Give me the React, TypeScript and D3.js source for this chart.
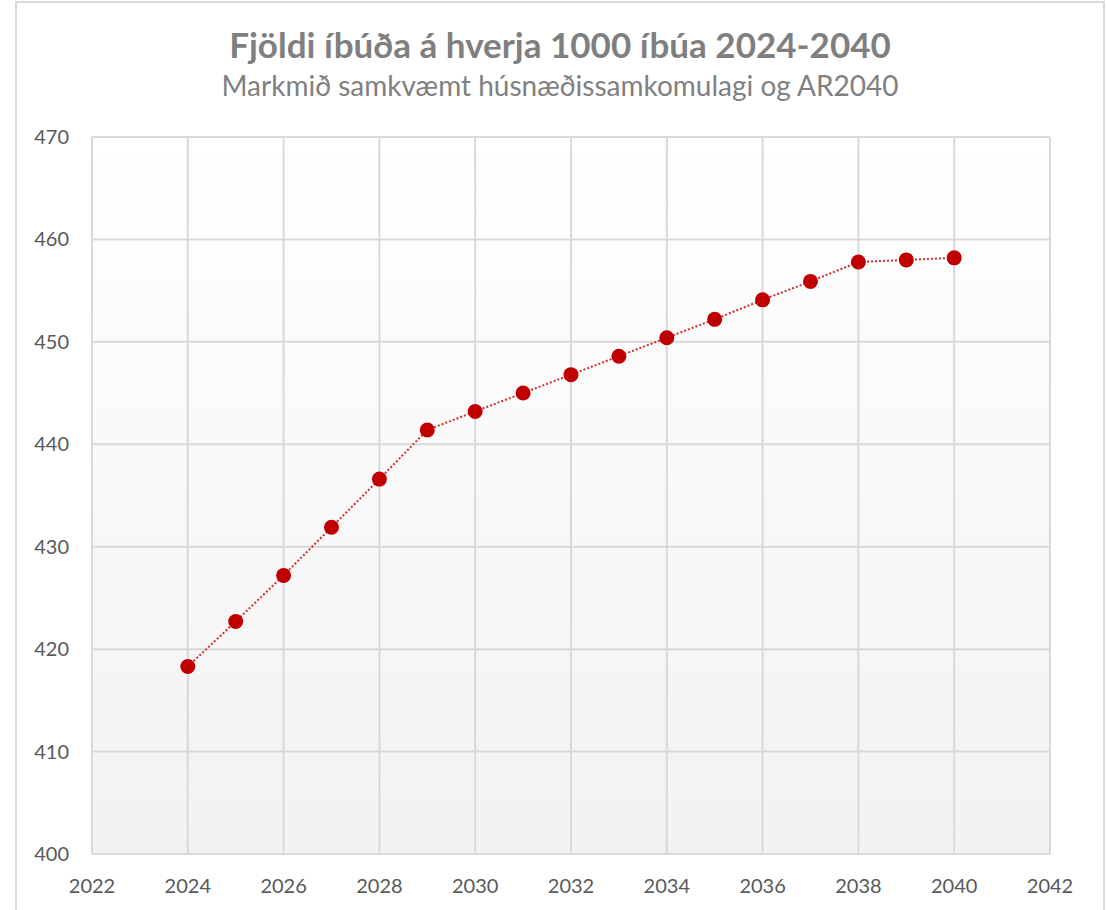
import { useEffect, useRef } from "react";
import * as d3 from "d3";

const years = [2024, 2025, 2026, 2027, 2028, 2029, 2030, 2031, 2032, 2033, 2034, 2035, 2036, 2037, 2038, 2039, 2040];
const values = [418.3, 422.7, 427.2, 431.9, 436.6, 441.4, 443.2, 445.0, 446.8, 448.6, 450.4, 452.2, 454.1, 455.9, 457.8, 458.0, 458.2];
const xTicks = [2022, 2024, 2026, 2028, 2030, 2032, 2034, 2036, 2038, 2040, 2042];
const yTicks = [400, 410, 420, 430, 440, 450, 460, 470];

const title = "Fjöldi íbúða á hverja 1000 íbúa 2024-2040";
const subtitle = "Markmið samkvæmt húsnæðissamkomulagi og AR2040";

export default function App() {
    const svgRef = useRef<SVGSVGElement>(null);

    useEffect(() => {
        if (!svgRef.current) return;
        const width = 1106;
        const height = 910;
        const plot = { left: 92, right: 1050, top: 137, bottom: 854 };
        const font = "Lato, 'Open Sans', sans-serif";

        const svg = d3.select(svgRef.current);
        svg.selectAll("*").remove();
        svg.attr("width", width).attr("height", height);

        const x = d3.scaleLinear().domain([2022, 2042]).range([plot.left, plot.right]);
        const y = d3.scaleLinear().domain([400, 470]).range([plot.bottom, plot.top]);

        // outer chart border
        svg.append("rect")
            .attr("x", 16)
            .attr("y", 2)
            .attr("width", 1088)
            .attr("height", 940)
            .style("fill", "#fff")
            .style("stroke", "#d9d9d9")
            .style("stroke-width", 2);

        // plot background gradient
        const grad = svg.append("defs").append("linearGradient")
            .attr("id", "plotBg")
            .attr("x1", 0).attr("y1", 0).attr("x2", 0).attr("y2", 1);
        grad.append("stop").attr("offset", "0%").attr("stop-color", "#ffffff");
        grad.append("stop").attr("offset", "100%").attr("stop-color", "#f2f2f2");

        svg.append("rect")
            .attr("x", plot.left)
            .attr("y", plot.top)
            .attr("width", plot.right - plot.left)
            .attr("height", plot.bottom - plot.top)
            .style("fill", "url(#plotBg)");

        // grid lines
        svg.selectAll(".hgrid")
            .data(yTicks)
            .enter()
            .append("line")
            .attr("x1", plot.left)
            .attr("x2", plot.right)
            .attr("y1", (d) => y(d))
            .attr("y2", (d) => y(d))
            .style("stroke", "#d9d9d9")
            .style("stroke-width", 2);

        svg.selectAll(".vgrid")
            .data(xTicks)
            .enter()
            .append("line")
            .attr("x1", (d) => x(d))
            .attr("x2", (d) => x(d))
            .attr("y1", plot.top)
            .attr("y2", plot.bottom)
            .style("stroke", "#d9d9d9")
            .style("stroke-width", 2);

        // tick labels
        svg.selectAll(".ylab")
            .data(yTicks)
            .enter()
            .append("text")
            .attr("x", 69)
            .attr("y", (d) => y(d))
            .attr("dy", "0.35em")
            .attr("text-anchor", "end")
            .style("font-family", font)
            .style("font-size", "20px")
            .style("fill", "#595959")
            .text((d) => d);

        svg.selectAll(".xlab")
            .data(xTicks)
            .enter()
            .append("text")
            .attr("x", (d) => x(d))
            .attr("y", 893)
            .attr("text-anchor", "middle")
            .style("font-family", font)
            .style("font-size", "20px")
            .style("fill", "#595959")
            .text((d) => d);

        // titles
        svg.append("text")
            .attr("x", 560)
            .attr("y", 58)
            .attr("text-anchor", "middle")
            .style("font-family", font)
            .style("font-size", "35px")
            .style("font-weight", "bold")
            .style("fill", "#7f7f7f")
            .text(title);

        svg.append("text")
            .attr("x", 560)
            .attr("y", 96)
            .attr("text-anchor", "middle")
            .style("font-family", font)
            .style("font-size", "28px")
            .style("fill", "#808080")
            .text(subtitle);

        // series
        const points = years.map((yr, i) => [yr, values[i]] as [number, number]);
        const line = d3.line<[number, number]>()
            .x((d) => x(d[0]))
            .y((d) => y(d[1]));

        svg.append("path")
            .datum(points)
            .attr("d", line)
            .style("fill", "none")
            .style("stroke", "#d23030")
            .style("stroke-width", 2)
            .style("stroke-dasharray", "2,2");

        svg.selectAll(".pt")
            .data(points)
            .enter()
            .append("circle")
            .attr("cx", (d) => x(d[0]))
            .attr("cy", (d) => y(d[1]))
            .attr("r", 7.5)
            .style("fill", "#c00000");
    }, []);

    return (
        <svg
            ref={svgRef}
            style={{ position: "absolute", left: 0, top: 0, display: "block" }}
        ></svg>
    );
}
